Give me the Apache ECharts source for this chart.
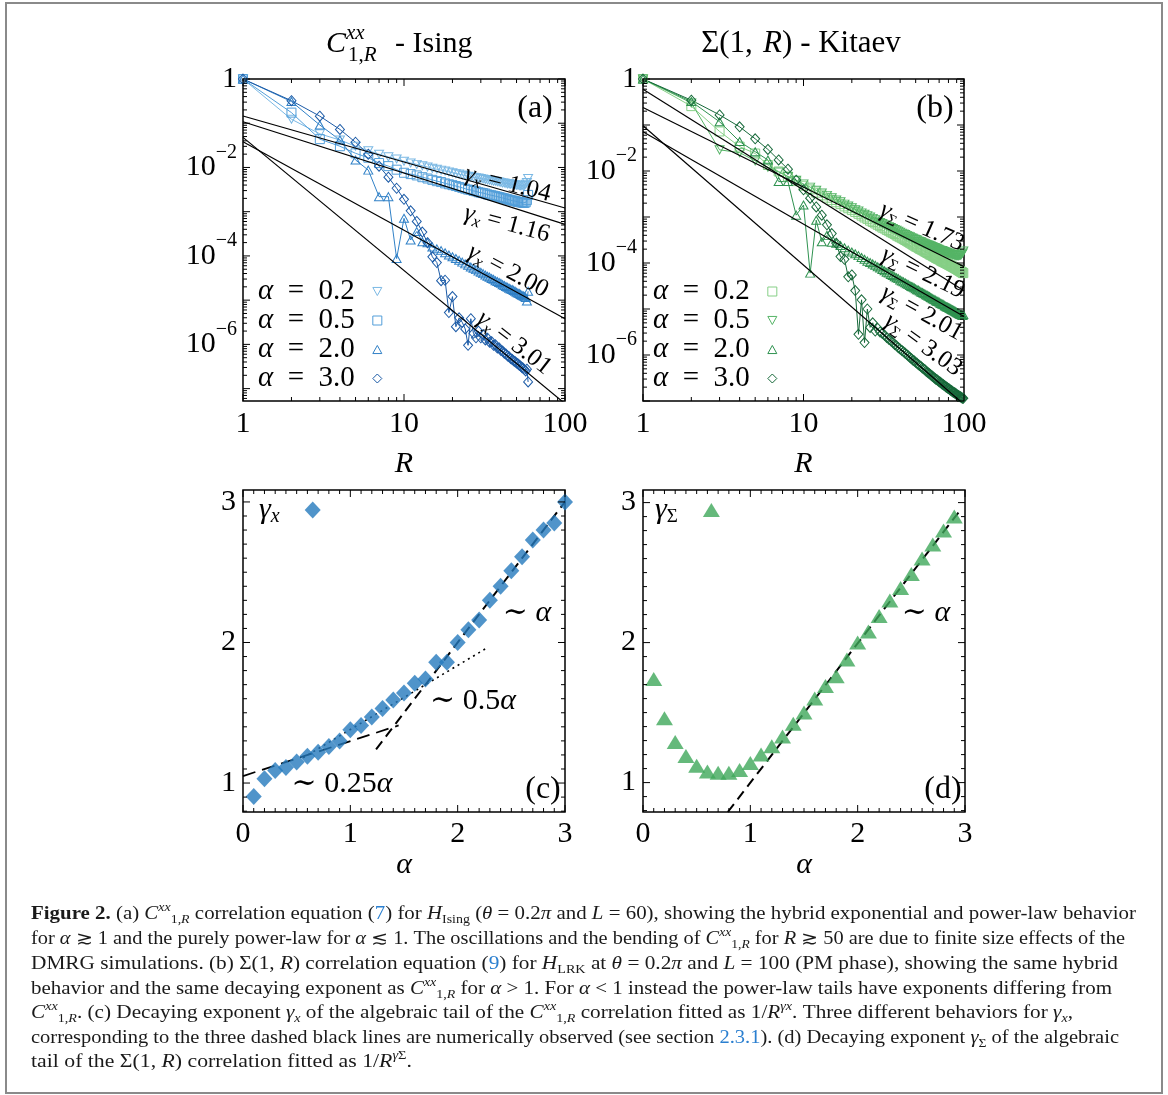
<!DOCTYPE html>
<html><head><meta charset="utf-8">
<script src="https://cdn.jsdelivr.net/npm/echarts@6/dist/echarts.min.js"></script>
<style>html,body{margin:0;padding:0;background:#fff}#c{width:1168px;height:1095px}</style>
</head><body><div id="c"></div>
<script>
// ---------------- DATA ----------------
// Panel (a): C^xx_{1,R} Ising, L = 60  (values stored as log10 of the correlation)
const R_ISING = Array.from({length: 59}, (_, i) => i + 1);
const ISING_A02_LOG10 = [0, -0.91, -1.24, -1.38, -1.52, -1.62, -1.70, -1.76, -1.81, -1.86,
 -1.90, -1.93, -1.96, -1.99, -2.02, -2.04, -2.06, -2.08, -2.10, -2.12,
 -2.14, -2.15, -2.17, -2.18, -2.20, -2.21, -2.22, -2.23, -2.24, -2.25,
 -2.26, -2.27, -2.28, -2.29, -2.30, -2.31, -2.31, -2.32, -2.33, -2.34,
 -2.35, -2.35, -2.36, -2.37, -2.37, -2.38, -2.38, -2.39, -2.39, -2.40,
 -2.40, -2.41, -2.41, -2.41, -2.41, -2.40, -2.38, -2.34, -2.25];
const ISING_A05_LOG10 = [0, -0.76, -1.36, -1.52, -1.68, -1.78, -1.90, -1.97, -2.05, -2.12,
 -2.15, -2.18, -2.22, -2.25, -2.28, -2.31, -2.33, -2.36, -2.38, -2.40,
 -2.42, -2.44, -2.46, -2.48, -2.50, -2.51, -2.53, -2.54, -2.56, -2.57,
 -2.58, -2.59, -2.61, -2.62, -2.63, -2.64, -2.65, -2.66, -2.67, -2.68,
 -2.69, -2.70, -2.71, -2.72, -2.73, -2.74, -2.75, -2.75, -2.76, -2.77,
 -2.78, -2.78, -2.79, -2.79, -2.80, -2.80, -2.79, -2.74, -2.62];
const ISING_A20_LOG10 = [0, -0.51, -1.04, -1.38, -1.83, -2.06, -2.66, -2.66, -4.06, -3.15,
 -3.64, -3.45, -3.68, -3.70, -3.80, -3.84, -3.88, -3.93, -3.98, -4.02,
 -4.06, -4.10, -4.14, -4.18, -4.21, -4.25, -4.28, -4.31, -4.34, -4.37,
 -4.40, -4.43, -4.46, -4.48, -4.51, -4.53, -4.56, -4.58, -4.60, -4.62,
 -4.65, -4.67, -4.69, -4.71, -4.73, -4.75, -4.76, -4.78, -4.80, -4.82,
 -4.84, -4.85, -4.87, -4.89, -4.90, -4.92, -4.94, -5.02, -4.80];
const ISING_A30_LOG10 = [0, -0.49, -0.84, -1.14, -1.43, -1.70, -1.97, -2.22, -2.47, -2.72,
 -2.98, -3.22, -3.46, -3.70, -4.02, -4.15, -4.56, -4.55, -5.28, -4.92,
 -5.60, -5.40, -5.50, -5.65, -6.02, -5.42, -5.75, -5.85, -5.70, -5.85,
 -5.78, -5.90, -5.86, -5.95, -5.94, -6.02, -6.01, -6.08, -6.08, -6.14,
 -6.15, -6.20, -6.22, -6.26, -6.28, -6.32, -6.34, -6.37, -6.39, -6.42,
 -6.44, -6.47, -6.49, -6.52, -6.54, -6.57, -6.60, -6.56, -6.85];
const ISING_FIT_GAMMA = ['1.04', '1.16', '2.00', '3.01'];
const FIT_R = [1, 100];
const ISING_FIT_LOG10 = [[-0.837, -2.917], [-0.966, -3.286], [-1.42, -5.42], [-1.32, -7.34]];

// Panel (b): Sigma(1,R) Kitaev, L = 100
const R_KITAEV = Array.from({length: 99}, (_, i) => i + 1);
const KITAEV_A02_LOG10 = [0, -0.59, -1.14, -1.47, -1.62, -1.87, -2.01, -2.12, -2.22, -2.32,
 -2.40, -2.47, -2.53, -2.58, -2.63, -2.68, -2.72, -2.77, -2.81, -2.85,
 -2.89, -2.93, -2.97, -3.01, -3.04, -3.08, -3.11, -3.14, -3.17, -3.20,
 -3.23, -3.25, -3.28, -3.30, -3.33, -3.35, -3.37, -3.40, -3.42, -3.44,
 -3.46, -3.48, -3.50, -3.52, -3.54, -3.56, -3.58, -3.60, -3.62, -3.64,
 -3.65, -3.67, -3.69, -3.70, -3.72, -3.73, -3.75, -3.76, -3.78, -3.79,
 -3.81, -3.82, -3.83, -3.85, -3.86, -3.87, -3.89, -3.90, -3.91, -3.92,
 -3.93, -3.95, -3.96, -3.97, -3.98, -3.99, -4.00, -4.01, -4.02, -4.03,
 -4.04, -4.05, -4.06, -4.07, -4.08, -4.09, -4.10, -4.11, -4.12, -4.13,
 -4.14, -4.15, -4.16, -4.17, -4.18, -4.19, -4.20, -4.21, -4.22];
const KITAEV_A05_LOG10 = [0, -0.52, -1.54, -1.60, -1.78, -1.92, -2.02, -2.12, -2.20, -2.28,
 -2.35, -2.42, -2.48, -2.53, -2.58, -2.63, -2.67, -2.72, -2.76, -2.80,
 -2.84, -2.87, -2.91, -2.94, -2.97, -3.00, -3.03, -3.06, -3.09, -3.12,
 -3.14, -3.17, -3.19, -3.21, -3.23, -3.25, -3.27, -3.29, -3.31, -3.33,
 -3.35, -3.37, -3.38, -3.40, -3.42, -3.43, -3.45, -3.46, -3.48, -3.49,
 -3.50, -3.52, -3.53, -3.54, -3.56, -3.57, -3.58, -3.59, -3.60, -3.61,
 -3.62, -3.63, -3.64, -3.65, -3.66, -3.67, -3.68, -3.69, -3.70, -3.71,
 -3.72, -3.73, -3.73, -3.74, -3.75, -3.76, -3.76, -3.77, -3.78, -3.79,
 -3.79, -3.80, -3.81, -3.81, -3.82, -3.82, -3.83, -3.83, -3.84, -3.84,
 -3.84, -3.84, -3.84, -3.83, -3.83, -3.82, -3.80, -3.78, -3.74];
const KITAEV_A20_LOG10 = [0, -0.49, -0.93, -1.36, -1.58, -1.76, -2.23, -2.23, -2.96, -2.74,
 -4.22, -3.07, -3.54, -3.40, -3.55, -3.57, -3.62, -3.67, -3.72, -3.76,
 -3.80, -3.84, -3.88, -3.92, -3.96, -3.99, -4.02, -4.05, -4.08, -4.11,
 -4.14, -4.17, -4.20, -4.22, -4.25, -4.27, -4.30, -4.32, -4.34, -4.37,
 -4.39, -4.41, -4.43, -4.45, -4.47, -4.49, -4.51, -4.52, -4.54, -4.56,
 -4.58, -4.59, -4.61, -4.63, -4.64, -4.66, -4.67, -4.69, -4.70, -4.72,
 -4.73, -4.75, -4.76, -4.78, -4.79, -4.80, -4.82, -4.83, -4.84, -4.85,
 -4.87, -4.88, -4.89, -4.90, -4.91, -4.93, -4.94, -4.95, -4.96, -4.97,
 -4.98, -4.99, -5.00, -5.01, -5.02, -5.03, -5.04, -5.05, -5.06, -5.07,
 -5.08, -5.09, -5.10, -5.11, -5.12, -5.12, -5.13, -5.14, -5.12];
const KITAEV_A30_LOG10 = [0, -0.46, -0.78, -1.04, -1.30, -1.53, -1.76, -1.96, -2.20, -2.41,
 -2.59, -2.78, -2.96, -3.17, -3.36, -3.57, -3.86, -3.92, -4.30, -4.26,
 -4.60, -5.55, -4.80, -5.73, -5.00, -5.40, -5.30, -5.48, -5.42, -5.50,
 -5.53, -5.57, -5.62, -5.66, -5.69, -5.73, -5.77, -5.80, -5.84, -5.87,
 -5.90, -5.93, -5.96, -5.99, -6.02, -6.05, -6.08, -6.11, -6.13, -6.16,
 -6.18, -6.21, -6.23, -6.25, -6.28, -6.30, -6.32, -6.35, -6.37, -6.39,
 -6.41, -6.43, -6.45, -6.47, -6.49, -6.51, -6.53, -6.54, -6.56, -6.58,
 -6.59, -6.61, -6.63, -6.64, -6.66, -6.67, -6.69, -6.70, -6.72, -6.73,
 -6.74, -6.76, -6.77, -6.78, -6.80, -6.81, -6.82, -6.83, -6.84, -6.86,
 -6.87, -6.88, -6.89, -6.90, -6.91, -6.92, -6.93, -6.94, -6.94];
const KITAEV_FIT_GAMMA = ['1.73', '2.19', '2.01', '3.03'];
const KITAEV_FIT_LOG10 = [[-0.62, -4.08], [-0.225, -4.605], [-1.145, -5.165], [-1.015, -7.075]];

// Panel (c): gamma_x vs alpha
const ALPHA_C = [0.1,0.2,0.3,0.4,0.5,0.6,0.7,0.8,0.9,1.0,1.1,1.2,1.3,1.4,1.5,1.6,1.7,1.8,1.9,2.0,2.1,2.2,2.3,2.4,2.5,2.6,2.7,2.8,2.9,3.0];
const GAMMA_X = [0.905,1.03,1.09,1.11,1.15,1.19,1.22,1.26,1.30,1.38,1.41,1.47,1.53,1.59,1.64,1.71,1.74,1.86,1.86,2.00,2.09,2.16,2.30,2.40,2.51,2.61,2.73,2.80,2.85,3.00];
const GUIDE_C_ALPHA = [[1.24, 1.24], [3.0, 3.0]];
const GUIDE_C_025 = [[0, 1.05], [1.45, 1.41]];
const GUIDE_C_05 = [[0.56, 1.18], [2.27, 1.96]];

// Panel (d): gamma_Sigma vs alpha
const ALPHA_D = [0.1,0.2,0.3,0.4,0.5,0.6,0.7,0.8,0.9,1.0,1.1,1.2,1.3,1.4,1.5,1.6,1.7,1.8,1.9,2.0,2.1,2.2,2.3,2.4,2.5,2.6,2.7,2.8,2.9];
const GAMMA_SIGMA = [1.74,1.46,1.29,1.19,1.12,1.08,1.07,1.07,1.09,1.14,1.20,1.26,1.33,1.42,1.50,1.60,1.69,1.76,1.88,2.00,2.08,2.19,2.30,2.39,2.49,2.60,2.70,2.80,2.90];
const GUIDE_D_ALPHA = [[0.79, 0.79], [2.95, 2.94]];

// Tick labels
const X_LOG_TICKS = [1, 10, 100];
const Y_LOG_LABEL_EXP = [0, -2, -4, -6];
const LIN_X_TICKS = [0, 1, 2, 3];
const LIN_Y_TICKS = [1, 2, 3];

// ---------------- STYLE ----------------
const SERIF = '"Liberation Serif", "DejaVu Serif", serif';
const C_ISING = ['#7ab8e4', '#529ed9', '#3181c7', '#1c5ba7'];
const C_KITAEV = ['#86cf86', '#55b466', '#2f9250', '#17693a'];
const C_BLUE = '#2479bd';
const C_GREEN = '#3ea85a';
const DOWN_TRI = 'path://M0,0L10,0L5,9Z';
const UP_TRI = 'path://M5,0L10,9L0,9Z';

const YMIN_A = Math.pow(10, -7.28), YMIN_B = 1e-7;

const chart = echarts.init(document.getElementById('c'), null, {renderer: 'canvas'});

function fmtLogX(v) {
  const l = Math.log10(v), e = Math.round(l);
  if (Math.abs(l - e) > 1e-6) return '';
  const t = Math.pow(10, e);
  return X_LOG_TICKS.indexOf(t) >= 0 ? '{b|' + t + '}' : '';
}
function fmtLogY(v) {
  const l = Math.log10(v), e = Math.round(l);
  if (Math.abs(l - e) > 1e-6) return '';
  if (Y_LOG_LABEL_EXP.indexOf(e) < 0) return '';
  if (e === 0) return '{b|1}';
  return '{b|10}{s|\u2212' + (-e) + '}';
}
function fmtLin(ticks) {
  return function (v) {
    const r = Math.round(v);
    if (Math.abs(v - r) > 1e-6) return '';
    return ticks.indexOf(r) >= 0 ? '{b|' + r + '}' : '';
  };
}
const labelRich = {
  b: {fontSize: 30, fontFamily: SERIF, color: '#000', lineHeight: 50},
  s: {fontSize: 20, fontFamily: SERIF, color: '#000', lineHeight: 20, verticalAlign: 'top'}
};
const labelRichX = {b: {fontSize: 30, fontFamily: SERIF, color: '#000', lineHeight: 30}};

function logTicks(minExp, maxExp, lo) {
  const major = [], minor = [];
  for (let k = minExp; k <= maxExp; k++) {
    const d = Math.pow(10, k);
    if (d >= lo * 0.999999) major.push(d);
    if (k < maxExp) for (let m = 2; m <= 9; m++) { const v = m * d; if (v >= lo) minor.push(v); }
  }
  return {major, minor};
}
function linMinor(lo, hi) {
  const out = [];
  for (let i = Math.ceil(lo * 10); i <= Math.floor(hi * 10); i++) if (i % 10 !== 0) out.push(i / 10);
  return out;
}
function tickSeries(gi, xr, yr, xt, yt) {
  const data = [];
  xt.major.forEach(v => data.push([v, yr[0], 0]));
  xt.minor.forEach(v => data.push([v, yr[0], 1]));
  yt.major.forEach(v => data.push([xr[0], v, 2]));
  yt.minor.forEach(v => data.push([xr[0], v, 3]));
  return {
    type: 'custom', xAxisIndex: gi, yAxisIndex: gi, silent: true, z: 6, clip: false,
    encode: {x: 0, y: 1}, data,
    renderItem: function (params, api) {
      const k = api.value(2);
      const L = (k === 0 || k === 2) ? 7 : 4;
      const st = {stroke: '#000', lineWidth: 1};
      let a, b, c1, c2;
      if (k < 2) {
        const v = api.value(0);
        a = api.coord([v, yr[0]]); b = api.coord([v, yr[1]]);
        c1 = {x1: a[0], y1: a[1], x2: a[0], y2: a[1] - L};
        c2 = {x1: b[0], y1: b[1], x2: b[0], y2: b[1] + L};
      } else {
        const v = api.value(1);
        a = api.coord([xr[0], v]); b = api.coord([xr[1], v]);
        c1 = {x1: a[0], y1: a[1], x2: a[0] + L, y2: a[1]};
        c2 = {x1: b[0], y1: b[1], x2: b[0] - L, y2: b[1]};
      }
      return {type: 'group', children: [
        {type: 'line', shape: c1, style: st},
        {type: 'line', shape: c2, style: st}]};
    }
  };
}
function dataSeries(name, gi, xs, logs, color, symbol, size) {
  return {
    type: 'line', name, xAxisIndex: gi, yAxisIndex: gi,
    data: xs.map((x, i) => [x, Math.pow(10, logs[i])]),
    symbol, symbolSize: size, showSymbol: true, showAllSymbol: true,
    lineStyle: {color, width: 1},
    itemStyle: {color: 'rgba(255,255,255,0)', borderColor: color, borderWidth: 1},
    emphasis: {disabled: true}, silent: true, z: 2
  };
}
function fitSeries(gi, logs) {
  return {type: 'line', xAxisIndex: gi, yAxisIndex: gi, silent: true, z: 4,
    data: FIT_R.map((r, i) => [r, Math.pow(10, logs[i])]),
    symbol: 'none', lineStyle: {color: '#000', width: 1.2}, emphasis: {disabled: true}};
}
function guideSeries(gi, pts, type, width) {
  return {type: 'line', xAxisIndex: gi, yAxisIndex: gi, silent: true, z: 3,
    data: pts, symbol: 'none', lineStyle: {color: '#000', width, type}, emphasis: {disabled: true}};
}

const ISING_NAMES = ['0.2', '0.5', '2.0', '3.0'].map(a => 'α = ' + a + ' (Ising)');
const KITAEV_NAMES = ['0.2', '0.5', '2.0', '3.0'].map(a => 'α = ' + a + ' (Kitaev)');
const ISING_SYM = [[DOWN_TRI, [9, 8]], ['rect', 9], [UP_TRI, [9, 8]], ['diamond', [9, 10]]];
const KITAEV_SYM = [['rect', 9], [DOWN_TRI, [9, 8]], [UP_TRI, [9, 8]], ['diamond', [9, 10]]];
const ISING_LOGS = [ISING_A02_LOG10, ISING_A05_LOG10, ISING_A20_LOG10, ISING_A30_LOG10];
const KITAEV_LOGS = [KITAEV_A02_LOG10, KITAEV_A05_LOG10, KITAEV_A20_LOG10, KITAEV_A30_LOG10];

const series = [];
ISING_LOGS.forEach((lg, i) => series.push(dataSeries(ISING_NAMES[i], 0, R_ISING, lg, C_ISING[i], ISING_SYM[i][0], ISING_SYM[i][1])));
KITAEV_LOGS.forEach((lg, i) => series.push(dataSeries(KITAEV_NAMES[i], 1, R_KITAEV, lg, C_KITAEV[i], KITAEV_SYM[i][0], KITAEV_SYM[i][1])));
ISING_FIT_LOG10.forEach(l => series.push(fitSeries(0, l)));
KITAEV_FIT_LOG10.forEach(l => series.push(fitSeries(1, l)));
series.push(guideSeries(2, GUIDE_C_025, [13, 7], 1.8));
series.push(guideSeries(2, GUIDE_C_05, [2, 4], 1.6));
series.push(guideSeries(2, GUIDE_C_ALPHA, [10, 6], 2));
series.push(guideSeries(3, GUIDE_D_ALPHA, [10, 6], 2));
series.push({type: 'scatter', name: 'γx', xAxisIndex: 2, yAxisIndex: 2, symbol: 'diamond', symbolSize: [16, 17],
  itemStyle: {color: C_BLUE}, data: ALPHA_C.map((a, i) => [a, GAMMA_X[i]]), z: 4, silent: true, emphasis: {disabled: true}});
series.push({type: 'scatter', name: 'γΣ', xAxisIndex: 3, yAxisIndex: 3, symbol: 'triangle', symbolSize: [17, 14],
  itemStyle: {color: C_GREEN}, data: ALPHA_D.map((a, i) => [a, GAMMA_SIGMA[i]]), z: 4, silent: true, emphasis: {disabled: true}});

const XR_LOG = [1, 100], YR_A = [YMIN_A, 1], YR_B = [YMIN_B, 1];
const XR_LIN = [0, 3], YR_C = [0.794, 3.085], YR_D = [0.79, 3.09];
const xLogT = logTicks(0, 2, 1);
series.push(tickSeries(0, XR_LOG, YR_A, xLogT, logTicks(-8, 0, YMIN_A)));
series.push(tickSeries(1, XR_LOG, YR_B, xLogT, logTicks(-7, 0, YMIN_B)));
const xLinT = {major: LIN_X_TICKS, minor: linMinor(0, 3)};
series.push(tickSeries(2, XR_LIN, YR_C, xLinT, {major: LIN_Y_TICKS, minor: linMinor(0.8, 3.0)}));
series.push(tickSeries(3, XR_LIN, YR_D, xLinT, {major: LIN_Y_TICKS, minor: linMinor(0.8, 3.0)}));

const gridBase = {show: true, borderColor: '#000', borderWidth: 1.5, backgroundColor: 'transparent', containLabel: false, outerBoundsMode: 'none'};
const grids = [
  Object.assign({left: 243, top: 79, width: 322, height: 322}, gridBase),
  Object.assign({left: 643, top: 79, width: 321, height: 322}, gridBase),
  Object.assign({left: 243, top: 490, width: 322, height: 322}, gridBase),
  Object.assign({left: 643, top: 490, width: 322, height: 322}, gridBase)
];
const noAxisDeco = {axisLine: {show: false}, axisTick: {show: false}, splitLine: {show: false}, minorTick: {show: false}};
function nameStyle() { return {fontSize: 30, fontFamily: SERIF, fontStyle: 'italic', color: '#000'}; }
const xAxes = [
  Object.assign({gridIndex: 0, type: 'log', logBase: 10, min: 1, max: 100, name: 'R', nameLocation: 'middle', nameGap: 48, nameTextStyle: nameStyle(),
    axisLabel: {formatter: fmtLogX, rich: labelRichX, margin: 8}}, noAxisDeco),
  Object.assign({gridIndex: 1, type: 'log', logBase: 10, min: 1, max: 100, name: 'R', nameLocation: 'middle', nameGap: 48, nameTextStyle: nameStyle(),
    axisLabel: {formatter: fmtLogX, rich: labelRichX, margin: 8}}, noAxisDeco),
  Object.assign({gridIndex: 2, type: 'value', min: 0, max: 3, interval: 1, name: 'α', nameLocation: 'middle', nameGap: 33, nameTextStyle: nameStyle(),
    axisLabel: {formatter: fmtLin(LIN_X_TICKS), rich: labelRichX, margin: 7}}, noAxisDeco),
  Object.assign({gridIndex: 3, type: 'value', min: 0, max: 3, interval: 1, name: 'α', nameLocation: 'middle', nameGap: 27, nameTextStyle: nameStyle(),
    axisLabel: {formatter: fmtLin(LIN_X_TICKS), rich: labelRichX, margin: 7}}, noAxisDeco)
];
const yAxes = [
  Object.assign({gridIndex: 0, type: 'log', logBase: 10, min: YMIN_A, max: 1, axisLabel: {formatter: fmtLogY, rich: labelRich, margin: 6}}, noAxisDeco),
  Object.assign({gridIndex: 1, type: 'log', logBase: 10, min: YMIN_B, max: 1, axisLabel: {formatter: fmtLogY, rich: labelRich, margin: 6}}, noAxisDeco),
  Object.assign({gridIndex: 2, type: 'value', min: YR_C[0], max: YR_C[1], splitNumber: 2, axisLabel: {formatter: fmtLin(LIN_Y_TICKS), rich: labelRichX, margin: 7}}, noAxisDeco),
  Object.assign({gridIndex: 3, type: 'value', min: YR_D[0], max: YR_D[1], splitNumber: 2, axisLabel: {formatter: fmtLin(LIN_Y_TICKS), rich: labelRichX, margin: 7}}, noAxisDeco)
];

// Legends
const legRich = {
  i: {fontSize: 29, fontFamily: SERIF, fontStyle: 'italic', color: '#000', lineHeight: 28},
  n: {fontSize: 29, fontFamily: SERIF, color: '#000', lineHeight: 28}
};
function alphaFmt(name) {
  const m = name.match(/α = ([\d.]+)/);
  return '{i|α}{n|\u2002=\u2002' + m[1] + '}';
}
function legendFor(names, syms, colors, left) {
  return {
    data: names.map((n, i) => ({name: n, icon: syms[i][0] === 'rect' ? 'rect' : syms[i][0],
      itemStyle: {color: 'rgba(255,255,255,0)', borderColor: colors[i], borderWidth: 1}})),
    left, top: 277, orient: 'vertical', align: 'right', itemWidth: 9, itemHeight: 9, itemGap: 0, padding: 0,
    selectedMode: false, formatter: alphaFmt, lineStyle: {width: 0},
    textStyle: {fontSize: 29, fontFamily: SERIF, color: '#000', lineHeight: 28, padding: [0, 13, 0, 0], rich: legRich}
  };
}
const gRich = {
  g: {fontSize: 30, fontFamily: SERIF, fontStyle: 'italic', color: '#000', lineHeight: 34},
  s: {fontSize: 20, fontFamily: SERIF, fontStyle: 'italic', color: '#000', lineHeight: 20, verticalAlign: 'bottom'},
  S: {fontSize: 19, fontFamily: SERIF, color: '#000', lineHeight: 20, verticalAlign: 'bottom'}
};
const legends = [
  legendFor(ISING_NAMES, ISING_SYM, C_ISING, 258),
  legendFor(KITAEV_NAMES, KITAEV_SYM, C_KITAEV, 653),
  {data: [{name: 'γx', icon: 'diamond', itemStyle: {color: C_BLUE}}], left: 259, top: 495, orient: 'vertical', align: 'right',
    itemWidth: 16, itemHeight: 17, padding: 0, selectedMode: false, formatter: () => '{g|γ}{s|x}',
    textStyle: {fontSize: 30, fontFamily: SERIF, color: '#000', padding: [0, 20, 0, 0], rich: gRich}},
  {data: [{name: 'γΣ', icon: 'triangle', itemStyle: {color: C_GREEN}}], left: 655, top: 495, orient: 'vertical', align: 'right',
    itemWidth: 17, itemHeight: 14, padding: 0, selectedMode: false, formatter: () => '{g|γ}{S|Σ}',
    textStyle: {fontSize: 30, fontFamily: SERIF, color: '#000', padding: [0, 20, 0, 0], rich: gRich}}
];

// ---------------- ANNOTATIONS ----------------
function rs(size, extra) { return Object.assign({fontSize: size, fontFamily: SERIF, fill: '#000', color: '#000'}, extra || {}); }
function txt(x, y, text, rich, align) {
  return {type: 'text', x, y, z: 50, silent: true,
    style: {text, rich, align: align || 'left', verticalAlign: 'middle', fill: '#000', fontFamily: SERIF, fontSize: 30}};
}
const graphics = [];
graphics.push({type: 'rect', z: 0, silent: true, shape: {x: 6, y: 3, width: 1156, height: 1090}, style: {fill: 'none', stroke: '#8a8a8a', lineWidth: 2}});
// Title (a)
graphics.push(txt(326, 44, '{i|C}', {i: rs(30, {fontStyle: 'italic'})}));
graphics.push(txt(346, 33, '{i|xx}', {i: rs(21, {fontStyle: 'italic'})}));
graphics.push(txt(348, 55, '{n|1,}{i|R}', {n: rs(21), i: rs(21, {fontStyle: 'italic'})}));
graphics.push(txt(395, 44, '{n|- Ising}', {n: rs(30)}));
// Title (b)
graphics.push(txt(801, 44, '{n|Σ(1, \u200a}{i|R}{n|) - Kitaev}', {n: rs(31), i: rs(31, {fontStyle: 'italic'})}, 'center'));
// Panel letters
[['(a)', 535, 109], ['(b)', 935, 109], ['(c)', 543, 790], ['(d)', 943, 790]].forEach(p => {
  graphics.push({type: 'text', x: p[1], y: p[2], z: 50, silent: true,
    style: {text: p[0], fontSize: 32, fontFamily: SERIF, fill: '#000', align: 'center', verticalAlign: 'middle'}});
});
// Exponent labels on fit lines
const gamRich = {
  g: rs(25, {fontStyle: 'italic', lineHeight: 30}),
  s: rs(17, {fontStyle: 'italic', lineHeight: 18, verticalAlign: 'bottom'}),
  S: rs(16, {lineHeight: 18, verticalAlign: 'bottom'}),
  n: rs(25, {lineHeight: 30})
};
const ISING_LABEL_POS = [[508, 184, 14], [507, 224, 15], [508, 271, 28], [514, 343, 38]];
const KITAEV_LABEL_POS = [[922, 227, 24], [923, 273, 26], [922, 313, 29], [923, 345, 36]];
ISING_FIT_GAMMA.forEach((g, i) => {
  const p = ISING_LABEL_POS[i];
  graphics.push({type: 'text', x: p[0], y: p[1], rotation: -p[2] * Math.PI / 180, z: 50, silent: true,
    style: {text: '{g|γ}{s|x}{n| = ' + g + '}', rich: gamRich, align: 'center', verticalAlign: 'middle'}});
});
KITAEV_FIT_GAMMA.forEach((g, i) => {
  const p = KITAEV_LABEL_POS[i];
  graphics.push({type: 'text', x: p[0], y: p[1], rotation: -p[2] * Math.PI / 180, z: 50, silent: true,
    style: {text: '{g|γ}{S|Σ}{n| = ' + g + '}', rich: gamRich, align: 'center', verticalAlign: 'middle'}});
});
// Scaling labels in (c), (d)
const simRich = {n: rs(30), i: rs(30, {fontStyle: 'italic'})};
[['{n|∼ 0.25}{i|α}', 342, 784], ['{n|∼ 0.5}{i|α}', 473, 701], ['{n|∼ }{i|α}', 527, 613], ['{n|∼ }{i|α}', 926, 613]].forEach(p => {
  graphics.push({type: 'text', x: p[1], y: p[2], z: 50, silent: true,
    style: {text: p[0], rich: simRich, align: 'center', verticalAlign: 'middle'}});
});

// Caption
const CAP = 18, INK = '#1a1a1a', LINK = '#2a7fd0';
const CAP_RICH = {
  n: {fontSize: CAP, fontFamily: SERIF, fill: INK, color: INK, lineHeight: 24},
  b: {fontSize: CAP, fontFamily: SERIF, fontWeight: 'bold', fill: INK, color: INK, lineHeight: 24},
  i: {fontSize: CAP, fontFamily: SERIF, fontStyle: 'italic', fill: INK, color: INK, lineHeight: 24},
  l: {fontSize: CAP, fontFamily: SERIF, fill: LINK, color: LINK, lineHeight: 24},
  sup: {fontSize: 12, fontFamily: SERIF, fill: INK, color: INK, lineHeight: 14, verticalAlign: 'top'},
  isup: {fontSize: 12, fontFamily: SERIF, fontStyle: 'italic', fill: INK, color: INK, lineHeight: 14, verticalAlign: 'top'},
  sub: {fontSize: 12, fontFamily: SERIF, fill: INK, color: INK, lineHeight: 14, verticalAlign: 'bottom'},
  isub: {fontSize: 12, fontFamily: SERIF, fontStyle: 'italic', fill: INK, color: INK, lineHeight: 14, verticalAlign: 'bottom'}
};
const CAPTION_LINES = [
  [['b','Figure 2.'],['n',' (a) '],['i','C'],['isup','xx'],['sub','1,'],['isub','R'],['n',' correlation equation ('],['l','7'],['n',') for '],['i','H'],['sub','Ising'],['n',' ('],['i','θ'],['n',' = 0.2'],['i','π'],['n',' and '],['i','L'],['n',' = 60), showing the hybrid exponential and power-law behavior']],
  [['n','for '],['i','α'],['n',' ≳ 1 and the purely power-law for '],['i','α'],['n',' ≲ 1. The oscillations and the bending of '],['i','C'],['isup','xx'],['sub','1,'],['isub','R'],['n',' for '],['i','R'],['n',' ≳ 50 are due to finite size effects of the']],
  [['n','DMRG simulations. (b) Σ(1, '],['i','R'],['n',') correlation equation ('],['l','9'],['n',') for '],['i','H'],['sub','LRK'],['n',' at '],['i','θ'],['n',' = 0.2'],['i','π'],['n',' and '],['i','L'],['n',' = 100 (PM phase), showing the same hybrid']],
  [['n','behavior and the same decaying exponent as '],['i','C'],['isup','xx'],['sub','1,'],['isub','R'],['n',' for '],['i','α'],['n',' > 1. For '],['i','α'],['n',' < 1 instead the power-law tails have exponents differing from']],
  [['i','C'],['isup','xx'],['sub','1,'],['isub','R'],['n','. (c) Decaying exponent '],['i','γ'],['isub','x'],['n',' of the algebraic tail of the '],['i','C'],['isup','xx'],['sub','1,'],['isub','R'],['n',' correlation fitted as 1/'],['i','R'],['isup','γx'],['n','. Three different behaviors for '],['i','γ'],['isub','x'],['n',',']],
  [['n','corresponding to the three dashed black lines are numerically observed (see section '],['l','2.3.1'],['n','). (d) Decaying exponent '],['i','γ'],['sub','Σ'],['n',' of the algebraic']],
  [['n','tail of the Σ(1, '],['i','R'],['n',') correlation fitted as 1/'],['i','R'],['isup','γ'],['sup','Σ'],['n','.']]
];
const CAP_X = 31;
const CAP_Y = [914, 939, 964, 989, 1013, 1038, 1062];
const CAP_RIGHT = [1136, 1125, 1118, 1112, 1073, 1119, 412];
const mctx = document.createElement('canvas').getContext('2d');
function segW(seg) {
  const st = CAP_RICH[seg[0]];
  mctx.font = (st.fontStyle || 'normal') + ' ' + (st.fontWeight || 'normal') + ' ' + st.fontSize + 'px ' + SERIF;
  return mctx.measureText(seg[1]).width;
}
CAPTION_LINES.forEach((segs, li) => {
  const w = segs.reduce((s, g) => s + segW(g), 0);
  const sx = (CAP_RIGHT[li] - CAP_X) / w;
  graphics.push({type: 'text', x: CAP_X, y: CAP_Y[li], scaleX: sx, z: 50, silent: true,
    style: {text: segs.map(g => '{' + g[0] + '|' + g[1] + '}').join(''), rich: CAP_RICH, align: 'left', verticalAlign: 'middle'}});
});

chart.setOption({
  animation: false,
  backgroundColor: '#fff',
  grid: grids, xAxis: xAxes, yAxis: yAxes,
  legend: legends,
  series,
  graphic: {elements: graphics}
});
</script></body></html>
